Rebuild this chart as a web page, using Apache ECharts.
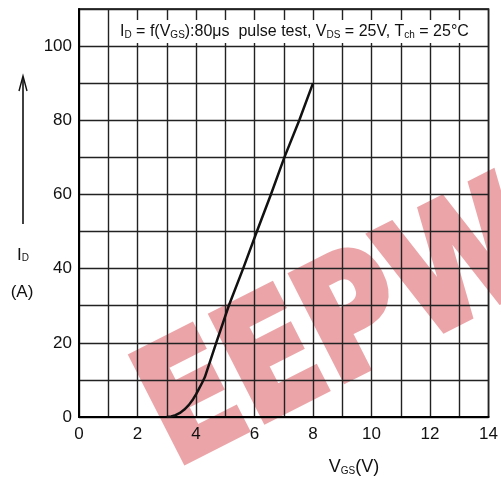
<!DOCTYPE html>
<html>
<head>
<meta charset="utf-8">
<script src="https://cdn.jsdelivr.net/npm/echarts@6/dist/echarts.min.js"></script>
<style>
html,body{margin:0;padding:0;background:#fff;}
#c{width:501px;height:481px;}
</style>
</head>
<body>
<div id="c"></div>
<script>
// Data
const vgs = [3.0, 3.15, 3.3, 3.45, 3.6, 3.75, 3.9, 4.0, 4.1, 4.2, 4.3, 4.69, 5.12, 5.61, 6.08, 6.56, 7.02, 7.53, 8.0];
const idA = [0, 0.15, 0.5, 1.1, 2.0, 3.2, 4.8, 6.1, 7.6, 9.1, 10.7, 20, 30, 40, 50, 60, 70, 80, 90];
const xTickLabels = [0, 2, 4, 6, 8, 10, 12, 14];
const yTickLabels = [0, 20, 40, 60, 80, 100];

const chart = echarts.init(document.getElementById('c'));
const FONT = 'Liberation Sans';
const points = vgs.map((v, i) => [v, idA[i]]);

chart.setOption({
  animation: false,
  backgroundColor: '#fff',
  grid: {left: 79, right: 2, top: 9, bottom: 64, show: true, borderColor: '#000', borderWidth: 1.5, backgroundColor: 'transparent', z: 2},
  xAxis: {
    type: 'value', min: 0, max: 14, interval: 1, z: 2,
    axisLine: {show: true, lineStyle: {color: '#000', width: 2}},
    axisTick: {show: false},
    axisLabel: {
      margin: 9, color: '#111', fontFamily: FONT, fontSize: 17,
      formatter: v => xTickLabels.indexOf(v) >= 0 ? String(v) : ''
    },
    splitLine: {show: true, lineStyle: {color: '#222', width: 1.4}}
  },
  yAxis: {
    type: 'value', min: 0, max: 110, interval: 10, z: 2,
    axisLine: {show: true, lineStyle: {color: '#000', width: 2}},
    axisTick: {show: false},
    axisLabel: {
      margin: 7, color: '#111', fontFamily: FONT, fontSize: 17,
      formatter: v => yTickLabels.indexOf(v) >= 0 ? String(v) : ''
    },
    splitLine: {show: true, lineStyle: {color: '#222', width: 1.4}}
  },
  series: [{
    type: 'line', data: points, smooth: false, z: 5,
    symbol: 'none', lineStyle: {color: '#111', width: 2.5, join: 'round'}
  }],
  graphic: [
    // watermark (drawn beneath grid lines)
    {type: 'text', x: 156, y: 429, rotation: 27 * Math.PI / 180, scaleX: 0.82, z: -10, style: {
      text: 'EEPW', align: 'left', verticalAlign: 'middle',
      font: 'bold 160px "DejaVu Sans"', fill: '#eba5a9', stroke: '#eba5a9', lineWidth: 8
    }},
    {type: 'rect', shape: {x: 113, y: 20, width: 368, height: 23}, style: {fill: '#fff'}, z: 50},
    {type: 'text', x: 120, y: 32, z: 51, style: {
      text: '{n|I}{s|D}{n| = f(V}{s|GS}{n|):80μs  pulse test, V}{s|DS}{n| = 25V, T}{s|ch}{n| = 25°C}',
      verticalAlign: 'middle',
      rich: {
        n: {fontFamily: FONT, fontSize: 16, fill: '#111', verticalAlign: 'bottom'},
        s: {fontFamily: FONT, fontSize: 10, fill: '#111', verticalAlign: 'bottom'}
      }
    }},
    // y-axis arrow
    {type: 'line', shape: {x1: 23, y1: 224, x2: 23, y2: 77}, style: {stroke: '#111', lineWidth: 1.6}, z: 51},
    {type: 'polyline', shape: {points: [[19, 91], [23, 76], [27, 91]]}, style: {stroke: '#111', lineWidth: 1.4, fill: null}, z: 51},
    {type: 'text', x: 23, y: 255, z: 51, style: {
      text: '{n|I}{s|D}', align: 'center', verticalAlign: 'middle',
      rich: {n: {fontFamily: FONT, fontSize: 17, fill: '#111', verticalAlign: 'bottom'}, s: {fontFamily: FONT, fontSize: 10, fill: '#111', verticalAlign: 'bottom'}}
    }},
    {type: 'text', x: 22, y: 292, z: 51, style: {text: '(A)', align: 'center', verticalAlign: 'middle', font: '17px ' + FONT, fill: '#111'}},
    // x-axis title
    {type: 'text', x: 354, y: 467, z: 51, style: {
      text: '{n|V}{s|GS}{n|(V)}', align: 'center', verticalAlign: 'middle',
      rich: {n: {fontFamily: FONT, fontSize: 18, fill: '#111', verticalAlign: 'bottom'}, s: {fontFamily: FONT, fontSize: 10, fill: '#111', verticalAlign: 'bottom'}}
    }}
  ]
});
</script>
</body>
</html>
